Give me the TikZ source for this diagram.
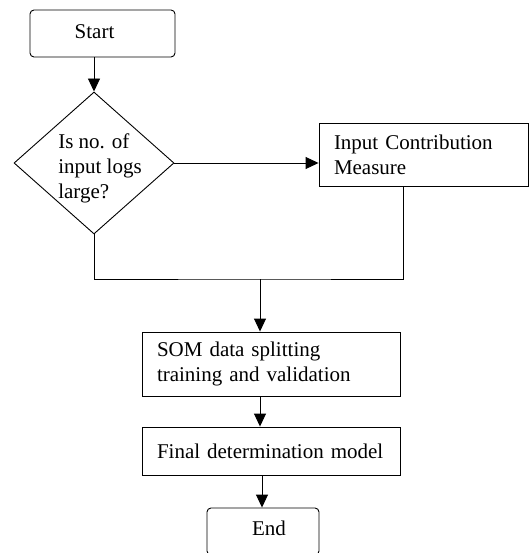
\documentclass[tikz,border=0pt]{standalone}
\usepackage{fontspec}
\setmainfont{Liberation Serif}
\usetikzlibrary{shapes.geometric,arrows.meta}

\tikzset{
  startstop/.style={draw,rounded corners=4pt,inner sep=0pt},
  procbox/.style={draw,inner xsep=15pt,inner ysep=0pt,align=left},
  decision/.style={draw,diamond,inner sep=0pt,minimum width=160pt,minimum height=142pt},
  arr/.style={-{Triangle[length=13pt,width=12pt]}},
}

\begin{document}
\begin{tikzpicture}[x=1pt,y=-1pt,line width=0.9pt,
  font=\fontsize{21}{25}\selectfont]
    \useasboundingbox (0,0) rectangle (529,553);

    \node[startstop,minimum width=145pt,minimum height=47pt] (start) at (102.5,33.5) {\raisebox{4pt}{Start\hspace{16pt}}};
    \node[decision] (dec) at (94,163) {};
    \node[align=left,inner sep=0pt] (dectext) at (100,168) {Is no. of\\input logs\\large?};
    \node[procbox,text width=179pt,minimum height=63pt] (icm) at (423.5,154.5) {Input Contribution\\Measure};
    \node[procbox,text width=228pt,minimum height=64pt] (som) at (271,364) {SOM data splitting\\training and validation};
    \node[procbox,text width=228pt,minimum height=48pt] (fin) at (271,451) {Final determination model};
    \node[startstop,minimum width=112pt,minimum height=47pt] (end) at (263,531.5) {\raisebox{6pt}{\hspace{12pt}End}};

    \coordinate (merge) at (260,279);
    \coordinate (icmout) at (403,186);

    \draw[arr] (start.south -| dec.north) -- (dec.north);
    \draw[arr] (dec.east) -- (dec.east -| icm.west);
    \draw (dec.south) |- (merge) -| (icmout);
    \draw[arr] (merge) -- (merge |- som.north);
    \draw[arr] (merge |- som.south) -- (merge |- fin.north);
    \draw[arr] ([xshift=2pt]merge |- fin.south) -- ([xshift=2pt]merge |- end.north);
\end{tikzpicture}
\end{document}
